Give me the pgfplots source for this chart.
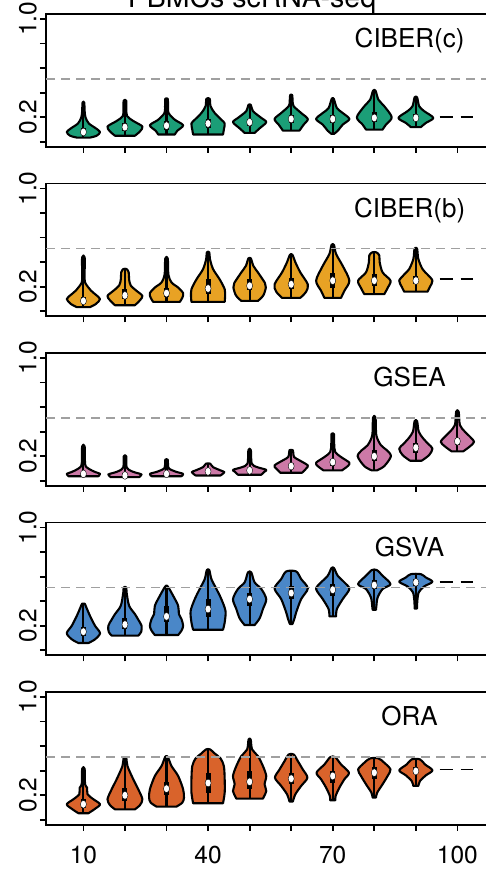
\documentclass[border=0pt]{standalone}
\usepackage{pgfplots}
\pgfplotsset{compat=1.18}
\usepackage{pgfplotstable}
\usepackage{fontspec}
\setmainfont{TeX Gyre Heros}

\definecolor{cciberc}{HTML}{1B9E77}
\definecolor{cciberb}{HTML}{E8A224}
\definecolor{cgsea}{HTML}{CC79A7}
\definecolor{cgsva}{HTML}{4A87C8}
\definecolor{cora}{HTML}{D9632B}
\definecolor{refgray}{HTML}{A0A0A0}

% summary statistics of each violin: x, lower whisker, q1, median, q3, upper whisker
\pgfplotstableread{
x lo q1 med q3 hi
10 0.04 0.06 0.08 0.11 0.32
20 0.05 0.09 0.12 0.15 0.335
30 0.06 0.10 0.132 0.17 0.35
40 0.06 0.11 0.149 0.19 0.35
50 0.073 0.13 0.16 0.19 0.30
60 0.092 0.15 0.186 0.22 0.38
70 0.065 0.15 0.186 0.22 0.35
80 0.10 0.16 0.195 0.24 0.416
90 0.12 0.17 0.195 0.23 0.362
}\tabA
\pgfplotstableread{
x lo q1 med q3 hi
10 0.035 0.06 0.085 0.12 0.44
20 0.05 0.10 0.13 0.18 0.344
30 0.077 0.12 0.148 0.19 0.43
40 0.077 0.14 0.186 0.26 0.48
50 0.085 0.17 0.208 0.26 0.43
60 0.11 0.18 0.22 0.27 0.46
70 0.11 0.19 0.25 0.31 0.54
80 0.14 0.21 0.25 0.30 0.48
90 0.16 0.22 0.25 0.29 0.51
}\tabB
\pgfplotstableread{
x lo q1 med q3 hi
10 0.038 0.045 0.057 0.075 0.28
20 0.03 0.035 0.044 0.06 0.20
30 0.038 0.045 0.057 0.07 0.172
40 0.044 0.06 0.077 0.09 0.14
50 0.05 0.07 0.085 0.10 0.25
60 0.066 0.10 0.12 0.145 0.25
70 0.085 0.12 0.153 0.18 0.38
80 0.085 0.16 0.20 0.25 0.514
90 0.164 0.23 0.27 0.31 0.486
100 0.24 0.29 0.322 0.35 0.563
}\tabC
\pgfplotstableread{
x lo q1 med q3 hi
10 0.06 0.12 0.152 0.19 0.38
20 0.12 0.17 0.21 0.26 0.512
30 0.125 0.23 0.276 0.36 0.52
40 0.168 0.27 0.336 0.42 0.653
50 0.206 0.36 0.417 0.47 0.634
60 0.214 0.42 0.466 0.52 0.642
70 0.276 0.44 0.493 0.54 0.669
80 0.33 0.50 0.531 0.57 0.653
90 0.34 0.52 0.553 0.58 0.62
}\tabD
\pgfplotstableread{
x lo q1 med q3 hi
10 0.054 0.10 0.127 0.17 0.416
20 0.086 0.15 0.20 0.26 0.505
30 0.108 0.20 0.254 0.31 0.513
40 0.135 0.22 0.30 0.38 0.573
50 0.173 0.25 0.31 0.40 0.654
60 0.149 0.29 0.335 0.38 0.532
70 0.16 0.30 0.357 0.40 0.51
80 0.181 0.33 0.384 0.43 0.50
90 0.276 0.37 0.397 0.43 0.492
}\tabE

% violin outline: list of value/half-width pairs, mirrored about the centre
\newcommand{\violin}[3]{%
  \gdef\vR{}\gdef\vL{}%
  \foreach \yy/\ww in {#3}{%
    \pgfmathsetmacro\xr{#1+\ww}%
    \pgfmathsetmacro\xl{#1-\ww}%
    \xdef\vR{\vR(\xr,\yy)}%
    \xdef\vL{(\xl,\yy)\vL}%
  }%
  \edef\vtemp{\noexpand\addplot[forget plot,fill=#2,draw=black,line width=2.1pt,line join=round,smooth,tension=0.5] coordinates {\vR\vL} --cycle;}%
  \vtemp
}

\newcommand{\innerbox}[1]{%
  \addplot[forget plot, only marks, mark=none, error bars/.cd, y dir=both, y explicit, error mark=none,
    error bar style={line width=2.1pt, black}]
    table[x=x, y=med, y error plus expr=\thisrow{hi}-\thisrow{med}, y error minus expr=\thisrow{med}-\thisrow{lo}]{#1};
  \addplot[forget plot, only marks, mark=none, error bars/.cd, y dir=both, y explicit, error mark=none,
    error bar style={line width=5pt, black}]
    table[x=x, y=med, y error plus expr=\thisrow{q3}-\thisrow{med}, y error minus expr=\thisrow{med}-\thisrow{q1}]{#1};
  \addplot[forget plot, only marks, mark=*, mark size=3pt, mark options={fill=white, draw=none, yscale=1.3}]
    table[x=x, y=med]{#1};
}

\pgfplotsset{
  vpanel/.style={
    scale only axis, width=448.8pt, height=132.8pt,
    xmin=1, xmax=109, ymin=-0.04, ymax=1.04,
    axis line style={line width=1.8pt},
    tick style={line width=1.8pt, black},
    tick align=outside, major tick length=6pt,
    xtick pos=left, ytick pos=left,
    xtick={10,20,30,40,50,60,70,80,90,100},
    ytick={0,0.2,0.4,0.6,0.8,1},
    yticklabels={,0.2,,,,1.0},
    xticklabels={},
    ticklabel style={font=\fontsize{24.5}{29}\selectfont},
    /pgf/number format/assume math mode=true,
    yticklabel style={rotate=90, anchor=south, inner sep=0pt},
    yticklabel shift=3pt,
    xticklabel style={anchor=north, inner sep=0pt},
    xticklabel shift=15.5pt,
    anchor=south west,
  },
  refline/.style={forget plot, refgray, line width=1.6pt, dash pattern=on 9pt off 6pt},
  fullline/.style={forget plot, black, line width=1.8pt, dash pattern=on 13pt off 8pt},
}
\tikzset{plabel/.style={font=\fontsize{26}{30}\selectfont, anchor=base}}

\begin{document}
\begin{tikzpicture}

% ---------------- CIBER(c)
\begin{axis}[vpanel, at={(46pt,725.2pt)}]
\violin{10}{cciberc}{0.035/1.6,0.05/3.2,0.08/4.0,0.11/3.0,0.15/1.3,0.20/0.5,0.25/0.3,0.32/0.2}
\violin{20}{cciberc}{0.05/2.4,0.085/3.6,0.125/4.2,0.17/2.0,0.21/0.5,0.27/0.35,0.335/0.3}
\violin{30}{cciberc}{0.06/2.0,0.09/2.6,0.135/4.0,0.18/2.0,0.235/0.5,0.30/0.35,0.35/0.3}
\violin{40}{cciberc}{0.06/3.6,0.10/3.8,0.15/4.0,0.18/3.2,0.235/1.6,0.29/0.6,0.35/0.4}
\violin{50}{cciberc}{0.073/1.2,0.11/2.4,0.16/4.0,0.195/2.8,0.25/0.8,0.30/0.3}
\violin{60}{cciberc}{0.092/2.0,0.14/3.0,0.186/4.0,0.235/2.4,0.29/0.6,0.33/0.35,0.38/0.25}
\violin{70}{cciberc}{0.065/0.3,0.09/1.2,0.14/2.4,0.186/4.0,0.235/2.4,0.275/1.0,0.35/0.25}
\violin{80}{cciberc}{0.10/2.0,0.14/2.8,0.20/4.2,0.29/2.4,0.343/1.0,0.416/0.3}
\violin{90}{cciberc}{0.12/1.2,0.154/2.4,0.195/4.2,0.25/2.0,0.29/0.8,0.362/0.3}
\innerbox{\tabA}
\addplot[refline] coordinates {(1,0.51) (109,0.51)};
\addplot[fullline] coordinates {(95.7,0.203) (103.7,0.203)};
\node[plabel] at (axis cs:88.5,0.765) {CIBER(c)};
\end{axis}

% ---------------- CIBER(b)
\begin{axis}[vpanel, at={(46pt,555.7pt)}]
\violin{10}{cciberb}{0.035/1.6,0.06/3.0,0.10/4.0,0.135/3.0,0.17/1.8,0.235/0.4,0.30/0.3,0.44/0.3}
\violin{20}{cciberb}{0.05/2.4,0.09/3.6,0.126/4.2,0.167/2.8,0.21/1.4,0.26/1.0,0.317/0.9,0.344/0.4}
\violin{30}{cciberb}{0.077/3.2,0.11/3.8,0.148/4.0,0.194/2.8,0.235/1.2,0.30/0.45,0.43/0.3}
\violin{40}{cciberb}{0.077/4.0,0.12/4.1,0.18/4.0,0.26/2.8,0.344/1.2,0.426/0.45,0.48/0.3}
\violin{50}{cciberb}{0.085/2.0,0.13/3.3,0.194/3.9,0.23/3.7,0.317/2.0,0.37/0.9,0.43/0.3}
\violin{60}{cciberb}{0.11/2.2,0.16/3.6,0.22/4.0,0.317/2.2,0.40/1.0,0.46/0.3}
\violin{70}{cciberb}{0.11/2.0,0.167/2.8,0.25/4.0,0.37/2.4,0.467/0.8,0.54/0.3}
\violin{80}{cciberb}{0.14/2.4,0.19/3.2,0.25/3.9,0.317/2.0,0.40/1.3,0.455/1.2,0.48/0.5}
\violin{90}{cciberb}{0.16/2.8,0.20/3.4,0.25/4.0,0.30/2.8,0.344/1.6,0.426/0.6,0.51/0.3}
\innerbox{\tabB}
\addplot[refline] coordinates {(1,0.51) (109,0.51)};
\addplot[fullline] coordinates {(95.7,0.262) (103.7,0.262)};
\node[plabel] at (axis cs:88.5,0.765) {CIBER(b)};
\end{axis}

% ---------------- GSEA
\begin{axis}[vpanel, at={(46pt,386.2pt)}]
\violin{10}{cgsea}{0.038/3.6,0.057/4.0,0.07/3.0,0.085/2.0,0.11/0.8,0.14/0.4,0.28/0.3}
\violin{20}{cgsea}{0.03/3.4,0.052/4.0,0.065/2.8,0.08/1.5,0.11/0.4,0.20/0.3}
\violin{30}{cgsea}{0.038/3.6,0.057/4.0,0.075/2.2,0.10/0.6,0.13/0.35,0.172/0.3}
\violin{40}{cgsea}{0.044/3.0,0.071/3.9,0.085/3.0,0.112/1.2,0.14/0.5}
\violin{50}{cgsea}{0.05/2.8,0.075/3.6,0.09/4.0,0.112/1.8,0.14/0.5,0.25/0.3}
\violin{60}{cgsea}{0.066/2.6,0.10/3.6,0.126/4.0,0.167/2.0,0.194/0.7,0.23/0.5,0.25/0.4}
\violin{70}{cgsea}{0.085/2.2,0.12/3.6,0.148/4.0,0.194/2.0,0.235/0.6,0.30/0.35,0.38/0.3}
\violin{80}{cgsea}{0.085/0.6,0.12/2.4,0.20/4.0,0.25/3.0,0.29/1.6,0.37/0.5,0.514/0.3}
\violin{90}{cgsea}{0.164/1.4,0.21/3.2,0.262/4.0,0.30/3.0,0.344/1.8,0.40/0.7,0.486/0.3}
\violin{100}{cgsea}{0.24/1.4,0.28/3.0,0.317/4.0,0.36/3.0,0.40/1.8,0.454/0.6,0.563/0.3}
\innerbox{\tabC}
\addplot[refline] coordinates {(1,0.51) (109,0.51)};
\node[plabel] at (axis cs:88.5,0.765) {GSEA};
\end{axis}

% ---------------- GSVA
\begin{axis}[vpanel, at={(46pt,216.7pt)}]
\violin{10}{cgsva}{0.06/1.2,0.09/2.8,0.14/4.0,0.20/2.8,0.28/1.6,0.35/0.7,0.38/0.3}
\violin{20}{cgsva}{0.12/3.2,0.15/3.9,0.20/4.0,0.25/3.2,0.295/2.4,0.363/1.0,0.47/0.4,0.512/0.3}
\violin{30}{cgsva}{0.125/2.8,0.16/3.6,0.20/4.0,0.255/3.6,0.295/3.0,0.363/2.8,0.444/1.6,0.52/0.3}
\violin{40}{cgsva}{0.168/3.6,0.228/4.0,0.32/4.2,0.417/3.2,0.50/2.0,0.58/0.8,0.653/0.3}
\violin{50}{cgsva}{0.206/1.2,0.26/2.4,0.336/3.2,0.417/4.0,0.50/2.8,0.553/1.2,0.634/0.4}
\violin{60}{cgsva}{0.214/0.3,0.26/0.8,0.309/1.2,0.417/2.4,0.504/4.0,0.58/2.4,0.642/1.2}
\violin{70}{cgsva}{0.276/0.8,0.336/1.0,0.417/2.4,0.499/4.0,0.553/2.8,0.607/1.2,0.669/0.3}
\violin{80}{cgsva}{0.33/0.4,0.36/0.5,0.43/0.8,0.499/2.0,0.539/3.9,0.607/2.0,0.653/0.6}
\violin{90}{cgsva}{0.34/0.3,0.40/0.35,0.472/0.7,0.52/2.0,0.558/4.0,0.593/2.4,0.62/1.2}
\innerbox{\tabD}
\addplot[refline] coordinates {(1,0.51) (109,0.51)};
\addplot[fullline] coordinates {(95.7,0.553) (103.7,0.553)};
\node[plabel] at (axis cs:88.5,0.765) {GSVA};
\end{axis}

% ---------------- ORA
\begin{axis}[vpanel, at={(46pt,47.2pt)}, xticklabels={10,,,40,,,70,,,100}]
\violin{10}{cora}{0.054/1.2,0.09/2.8,0.127/4.0,0.168/2.4,0.208/1.0,0.262/0.9,0.29/0.4,0.416/0.3}
\violin{20}{cora}{0.086/2.4,0.12/3.6,0.168/4.2,0.249/3.2,0.33/2.0,0.438/0.6,0.505/0.3}
\violin{30}{cora}{0.108/2.4,0.14/3.8,0.18/4.2,0.249/4.0,0.357/2.8,0.438/1.2,0.513/0.3}
\violin{40}{cora}{0.135/3.6,0.222/4.0,0.33/4.0,0.438/3.8,0.50/3.0,0.54/1.6,0.573/0.5}
\violin{50}{cora}{0.173/3.2,0.235/4.0,0.29/3.6,0.357/4.0,0.438/3.2,0.519/2.0,0.573/0.6,0.654/0.25}
\violin{60}{cora}{0.149/0.4,0.208/1.0,0.276/2.4,0.343/3.9,0.41/2.8,0.478/1.6,0.532/0.6}
\violin{70}{cora}{0.16/0.6,0.195/0.7,0.262/1.6,0.33/2.8,0.384/3.9,0.451/2.0,0.51/0.6}
\violin{80}{cora}{0.181/0.4,0.222/0.7,0.29/2.0,0.357/3.2,0.41/3.9,0.465/2.4,0.50/1.0}
\violin{90}{cora}{0.276/0.6,0.316/1.0,0.362/2.4,0.403/4.0,0.451/2.2,0.492/1.0}
\innerbox{\tabE}
\addplot[refline] coordinates {(1,0.51) (109,0.51)};
\addplot[fullline] coordinates {(95.7,0.41) (103.7,0.41)};
\node[plabel] at (axis cs:88.5,0.765) {ORA};
\end{axis}

\node[font=\fontsize{28.5}{32}\selectfont, anchor=base] at (252pt,864pt) {PBMCs scRNA-seq};

\pgfresetboundingbox
\useasboundingbox (0pt,0pt) rectangle (486pt,872pt);
\end{tikzpicture}
\end{document}
